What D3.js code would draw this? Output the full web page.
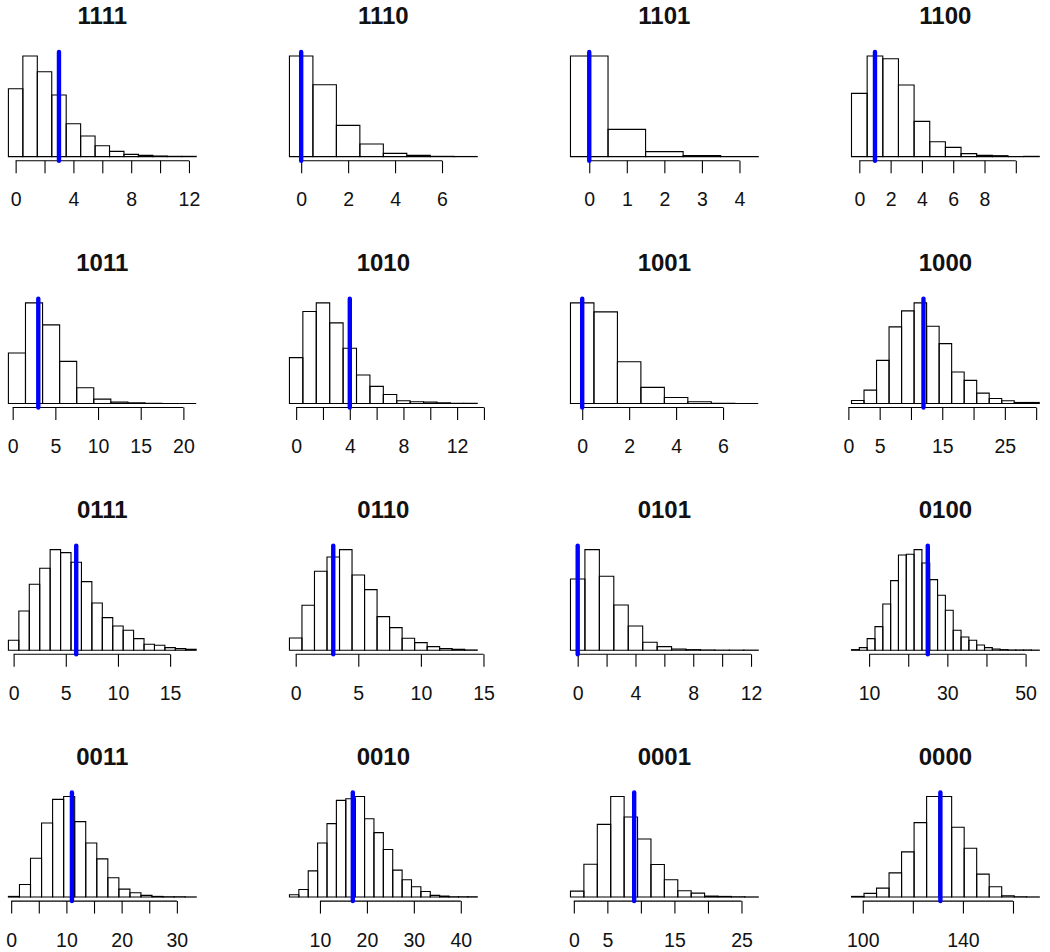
<!DOCTYPE html>
<html>
<head>
<meta charset="utf-8">
<script src="https://cdn.jsdelivr.net/npm/d3@7"></script>
<style>
  html, body { margin: 0; padding: 0; background: #fff; }
  svg { display: block; }
</style>
</head>
<body>
<div id="chart"></div>
<script>
// ---- data ----
const titles = ["1111","1110","1101","1100","1011","1010","1001","1000",
                "0111","0110","0101","0100","0011","0010","0001","0000"];
const binStart = [-0.5,-0.5,-0.5,-0.5,-0.5,-0.5,-0.5,0.5,-0.5,-0.5,-0.5,5.5,-0.5,3.5,-0.5,95.5];
const binWidth = [1,1,1,1,2,1,1,2,1,1,1,2,2,2,2,5];

const c1111 = [204,302,255,185,99,62,33,16,7,4,2,1,1];
const c1110 = [302,216,94,38,10,4,1,0.5];
const c1101 = [302,82,15,3,0.5];
const c1100 = [190,302,294,215,106,45,28,9,4,3,0,1];
const c1011 = [151,301,235,126,47,13,4,2,0.5,0,0];
const c1010 = [137,275,301,241,165,85,51,27,8,5,4,2,0.5,0.5];
const c1001 = [301,274,125,48,18,5,0.5,0];
const c1000 = [9,40,129,229,277,301,231,179,94,69,31,15,8,3,3];
const c0111 = [30,118,198,246,302,293,264,206,142,98,73,60,35,18,15,8,5,3];
const c0110 = [37,135,237,280,302,226,182,101,68,36,23,11,5,3,1];
const c0101 = [214,302,222,136,73,24,11,4,2,1,0.5,0.5,0.5];
const c0100 = [2,8,35,71,139,209,286,288,302,262,212,165,120,60,40,30,16,8,4,2,1,1,1,0.5];
const c0011 = [2,38,117,223,294,303,227,163,115,58,24,13,5,2,1,1,0.5];
const c0010 = [7,23,79,163,221,291,296,303,236,194,143,81,52,31,17,5,3,1,1,1];
const c0001 = [18,99,219,303,241,175,98,52,19,12,3,2,1,0.5];
const c0000 = [2,11,27,73,136,224,303,303,210,147,69,31,4,1,0.5];
const countSeries = [c1111,c1110,c1101,c1100,c1011,c1010,c1001,c1000,
                     c0111,c0110,c0101,c0100,c0011,c0010,c0001,c0000];

const observed = [3,0,0,1,3,4,0,12,6,3,0,25,11,17,9,131];

const tickValues = [
  [0,2,4,6,8,10,12],[0,2,4,6],[0,1,2,3,4],[0,2,4,6,8,10],
  [0,5,10,15,20],[0,2,4,6,8,10,12,14],[0,2,4,6],[0,5,10,15,20,25,30],
  [0,5,10,15],[0,5,10,15],[0,2,4,6,8,10,12],[10,20,30,40,50],
  [0,5,10,15,20,25,30],[10,20,30,40],[0,5,10,15,20,25],[100,120,140,160]
];
const tickLabels = [
  [0,4,8,12],[0,2,4,6],[0,1,2,3,4],[0,2,4,6,8],
  [0,5,10,15,20],[0,4,8,12],[0,2,4,6],[0,5,15,25],
  [0,5,10,15],[0,5,10,15],[0,4,8,12],[10,30,50],
  [0,10,20,30],[10,20,30,40],[0,5,15,25],[100,140]
];

// ---- layout ----
const width = 1050, height = 952;
const plotW = 202.8, plotH = 108.7;
const colStep = 281.03, rowStep = 246.8;
const left0 = 0.9, top0 = 52;
const font = "'Liberation Sans', Arial, Helvetica, sans-serif";

const svg = d3.select("#chart").append("svg")
  .attr("width", width).attr("height", height)
  .style("background", "#fff");

titles.forEach((title, i) => {
  const col = i % 4, row = Math.floor(i / 4);
  const L = left0 + col * colStep;
  const T = top0 + row * rowStep;
  const B = T + plotH;
  const counts = countSeries[i];
  const w = binWidth[i], s = binStart[i];
  const e = s + counts.length * w;
  const ext = 0.04 * (e - s);
  const x = d3.scaleLinear().domain([s - ext, e + ext]).range([L, L + plotW]);
  const M = d3.max(counts);
  const y = d3.scaleLinear().domain([-0.04 * M, 1.04 * M]).range([B, T]);

  const g = svg.append("g");

  // bars
  g.selectAll("path.bar").data(counts).enter().append("path")
    .attr("class", "bar")
    .attr("d", (d, k) => {
      const x0 = x(s + k * w), x1 = x(s + (k + 1) * w);
      const y0 = y(0), y1 = y(d);
      return `M${x0},${y0}L${x0},${y1}L${x1},${y1}L${x1},${y0}Z`;
    })
    .attr("fill", "none")
    .attr("stroke", "#000")
    .attr("stroke-width", 1.1);

  // axis
  const ticks = tickValues[i], labs = tickLabels[i];
  const ax = g.append("g")
    .attr("transform", `translate(0,${B})`)
    .call(d3.axisBottom(x).tickValues(ticks).tickSize(12.5).tickPadding(19.3)
      .tickFormat(d => labs.includes(d) ? String(d) : ""));
  ax.select(".domain").remove();
  ax.attr("font-family", font).attr("font-size", 19.5).style("color", "#000");
  ax.selectAll(".tick line").attr("stroke-width", 1.1);
  ax.selectAll(".tick text").attr("fill", "#111");
  ax.append("line")
    .attr("x1", x(ticks[0])).attr("x2", x(ticks[ticks.length - 1]))
    .attr("y1", 0).attr("y2", 0)
    .attr("stroke", "#000").attr("stroke-width", 1.1);

  // observed value line
  g.append("line")
    .attr("x1", x(observed[i])).attr("x2", x(observed[i]))
    .attr("y1", T).attr("y2", B)
    .attr("stroke", "#0000FF").attr("stroke-width", 4.4)
    .attr("stroke-linecap", "round");

  // title
  g.append("text")
    .attr("x", L + plotW / 2).attr("y", T - 27.7)
    .attr("text-anchor", "middle")
    .attr("font-family", font).attr("font-weight", "bold")
    .attr("font-size", 24).attr("fill", "#111")
    .text(title);
});
</script>
</body>
</html>
